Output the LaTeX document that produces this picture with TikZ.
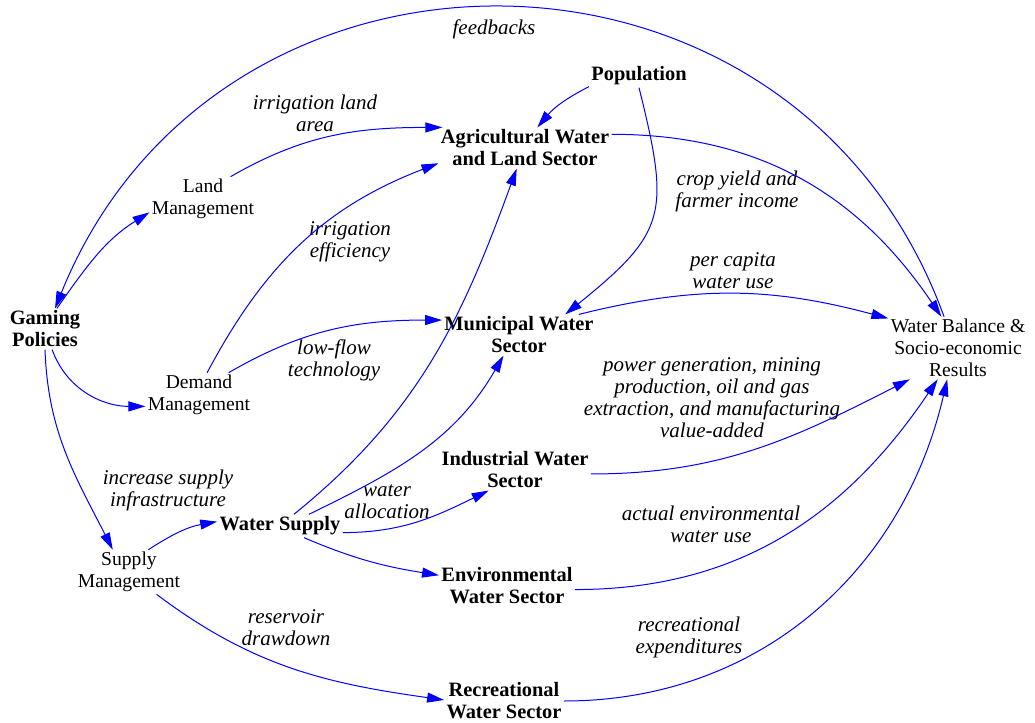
\documentclass[tikz,border=0pt]{standalone}
\usepackage{fontspec}
\setmainfont{Liberation Serif}
\usetikzlibrary{arrows.meta}
\tikzset{
  sector/.style={font=\bfseries\fontsize{10.2}{11}\selectfont, align=center, inner sep=1pt},
  manage/.style={font=\fontsize{9.8}{11}\selectfont, align=center, inner sep=1pt},
  flowlabel/.style={font=\itshape\fontsize{10.5}{11}\selectfont, align=center, inner sep=0pt},
  link/.style={blue, line width=0.5pt, -{Triangle[length=8.5pt,width=5pt]}},
}
\begin{document}
\begin{tikzpicture}[x=0.5pt,y=-0.5pt]
    \useasboundingbox (0,0) rectangle (1035,723);
    % policies and management
    \node[sector] (gaming) at (45,329) {Gaming\\Policies};
    \node[manage] (land) at (203,199) {Land\\Management};
    \node[manage] (demand) at (199,395) {Demand\\Management};
    \node[manage] (supply) at (129,572) {Supply\\Management};
    \node[sector] (wsupply) at (280,526) {Water Supply};
    % sectors
    \node[sector] (pop) at (639,76) {Population};
    \node[sector] (agri) at (525,148) {Agricultural Water\\and Land Sector};
    \node[sector] (muni) at (519,335) {Municipal Water\\Sector};
    \node[sector] (indus) at (515,470) {Industrial Water\\Sector};
    \node[sector] (env) at (507,586) {Environmental\\Water Sector};
    \node[sector] (recr) at (504,701) {Recreational\\Water Sector};
    \node[manage] (balance) at (958,348) {Water Balance \&\\Socio-economic\\Results};
    % labels
    \node[flowlabel] (fb) at (494,29) {feedbacks};
    \node[flowlabel] (irrland) at (315,113) {irrigation land\\area};
    \node[flowlabel] (irreff) at (350,242) {irrigation\\efficiency};
    \node[flowlabel] (lowflow) at (334,360) {low-flow\\technology};
    \node[flowlabel] (crop) at (737,191) {crop yield and\\farmer income};
    \node[flowlabel] (percap) at (733,271) {per capita\\water use};
    \node[flowlabel] (power) at (712,398) {power generation, mining\\production, oil and gas\\extraction, and manufacturing\\value-added};
    \node[flowlabel] (infra) at (168,490) {increase supply\\infrastructure};
    \node[flowlabel] (alloc) at (387,502) {water\\allocation};
    \node[flowlabel] (envuse) at (711,524) {actual environmental\\water use};
    \node[flowlabel] (drawdown) at (286,628) {reservoir\\drawdown};
    \node[flowlabel] (recexp) at (689,637) {recreational\\expenditures};
    % links
    \draw[link] (balance.114) to[out=110, in=68, looseness=1.25] (gaming.64);
    \draw[link] (gaming.60) to[out=55, in=212] (land.194);
    \draw[link] (gaming.289) to[out=290, in=180] (demand.192);
    \draw[link] (gaming.270) to[out=272, in=117] (supply.126);
    \draw[link] (land.39) to[out=30, in=180] (agri.166);
    \draw[link] (demand.70) to[out=62, in=201] (agri.190);
    \draw[link] (demand.37) to[out=30, in=180] (muni.169);
    \draw[link] (pop.192) to[out=207, in=50] (agri.59);
    \draw[link] (pop.south) to[out=284, in=39, looseness=1.4] (muni.24);
    \draw[link] (agri.9) to[out=0, in=124] (balance.118);
    \draw[link] (muni.19) to[out=14, in=165] (balance.157);
    \draw[link] (wsupply.40) to[out=39, in=250] (agri.248);
    \draw[link] (wsupply.22) to[out=26, in=240] (muni.233);
    \draw[link] (wsupply.354) to[out=0, in=206] (indus.218);
    \draw[link] (wsupply.334) to[out=337, in=171] (env.171);
    \draw[link] (supply.49) to[out=33, in=190] (wsupply.176);
    \draw[link] (supply.321) to[out=323, in=172] (recr.179);
    \draw[link] (indus.357) to[out=0, in=207] (balance.213);
    \draw[link] (env.357) to[out=0, in=236] (balance.237);
    \draw[link] (recr.0) to[out=0, in=257] (balance.251);
\end{tikzpicture}
\end{document}
